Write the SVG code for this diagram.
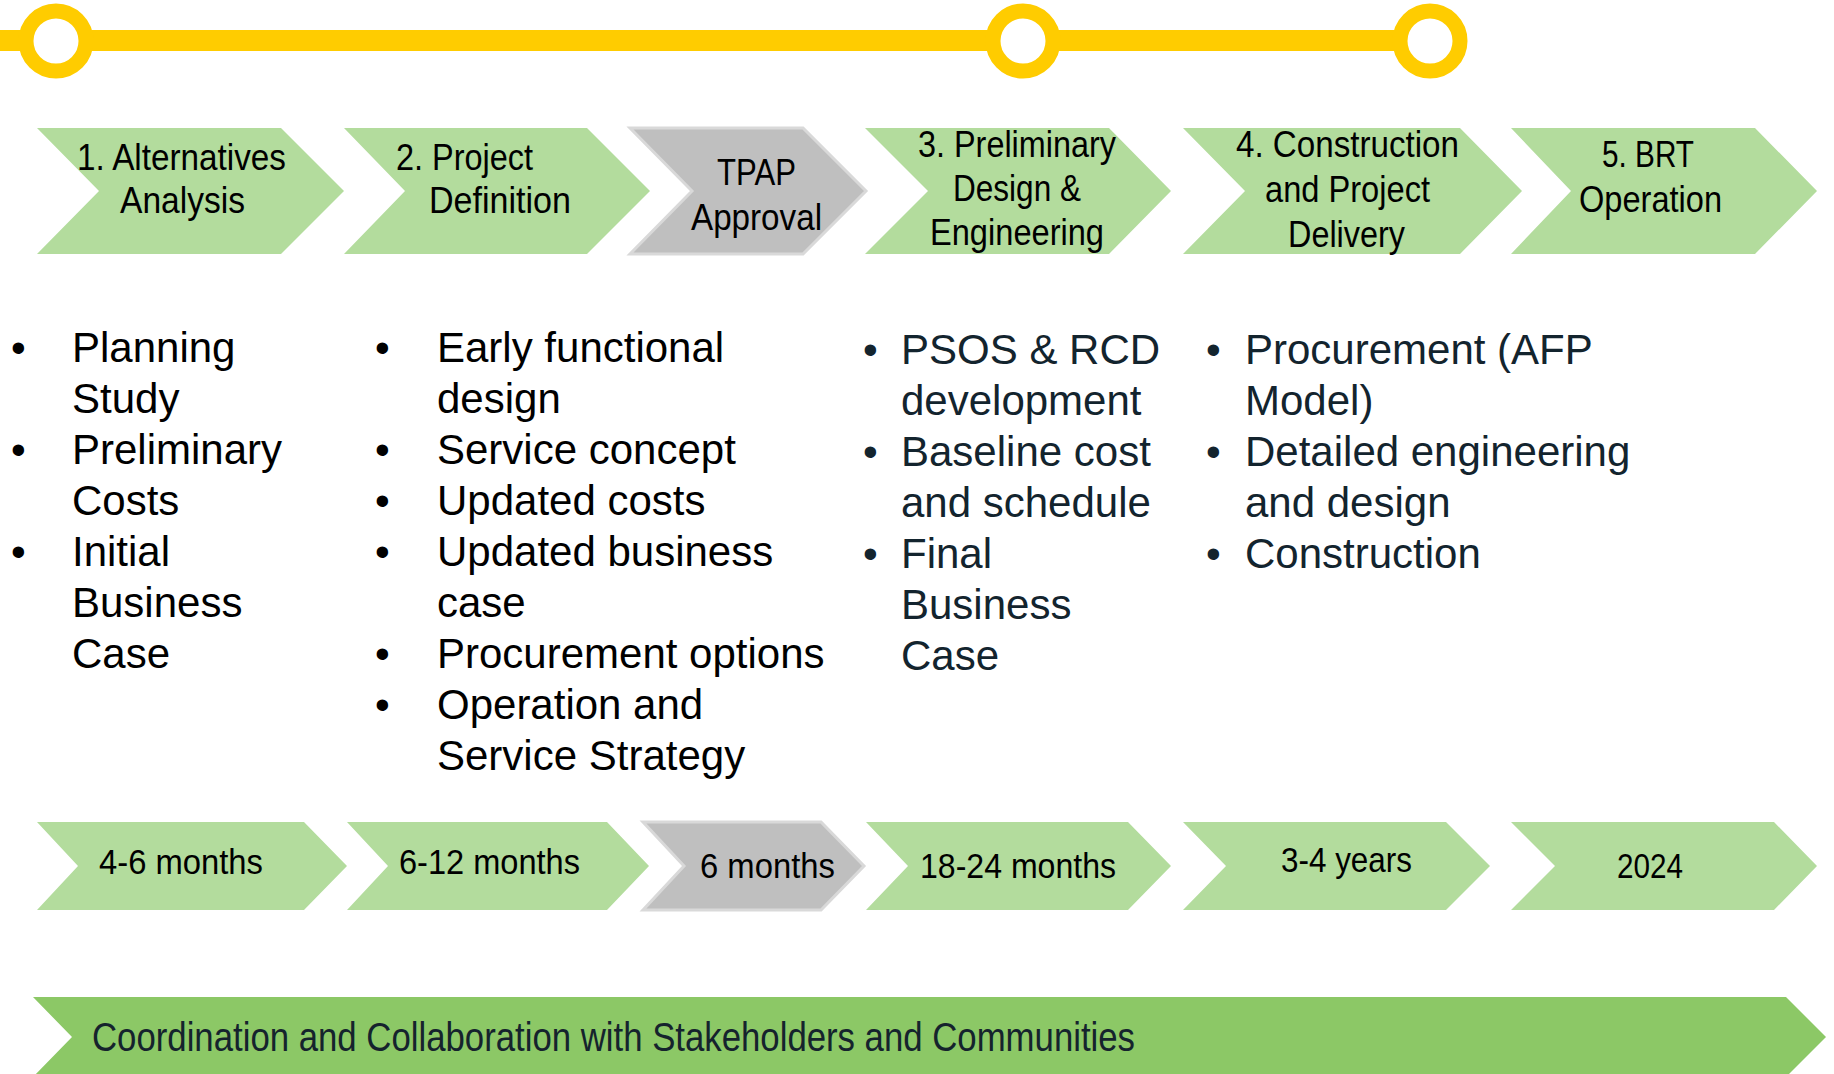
<svg xmlns="http://www.w3.org/2000/svg" width="1834" height="1074" viewBox="0 0 1834 1074">
<style>
.g{fill:#B3DC9D}
.gr{fill:#BFBFBF;stroke:#D9D9D9;stroke-width:3}
.ban{fill:#8CC866}
.t{font-family:"Liberation Sans Narrow","Liberation Sans",Arial,sans-serif;fill:#000}
.h{font-size:37px}
.d{font-size:35px}
.b{font-family:"Liberation Sans",Arial,sans-serif;font-size:42px;fill:#000}
.b2{font-family:"Liberation Sans",Arial,sans-serif;font-size:42px;fill:#13242E}
.bt{font-family:"Liberation Sans Narrow","Liberation Sans",Arial,sans-serif;font-size:41px;fill:#15232D}
.ring{fill:#fff;stroke:#FFCC00;stroke-width:15}
</style>
<rect width="1834" height="1074" fill="#fff"/>
<g id="connectors">
<rect x="0" y="30" width="1430" height="21" fill="#FFCC00"/>
</g>
<g id="milestone-1"><circle class="ring" cx="56" cy="41" r="30"/></g>
<g id="milestone-2"><circle class="ring" cx="1023" cy="41" r="30"/></g>
<g id="milestone-3"><circle class="ring" cx="1430" cy="41" r="30"/></g>

<g id="phase-1">
<polygon class="g" points="37,128 281,128 344,191 281,254 37,254 99,191"/>
<text class="t h" x="77" y="170" textLength="209" lengthAdjust="spacingAndGlyphs">1. Alternatives</text>
<text class="t h" x="120" y="213" textLength="125" lengthAdjust="spacingAndGlyphs">Analysis</text>
</g>
<g id="phase-2">
<polygon class="g" points="344,128 587,128 650,191 587,254 344,254 405,191"/>
<text class="t h" x="396" y="170" textLength="137" lengthAdjust="spacingAndGlyphs">2. Project</text>
<text class="t h" x="429" y="213" textLength="142" lengthAdjust="spacingAndGlyphs">Definition</text>
</g>
<g id="phase-tpap">
<polygon class="gr" points="630,128 803,128 866,191 803,254 630,254 692,191"/>
<text class="t h" x="717" y="185" textLength="79" lengthAdjust="spacingAndGlyphs">TPAP</text>
<text class="t h" x="691" y="230" textLength="131" lengthAdjust="spacingAndGlyphs">Approval</text>
</g>
<g id="phase-3">
<polygon class="g" points="865,128 1109,128 1171,191 1109,254 865,254 928,191"/>
<text class="t h" x="918" y="157" textLength="198" lengthAdjust="spacingAndGlyphs">3. Preliminary</text>
<text class="t h" x="953" y="201" textLength="128" lengthAdjust="spacingAndGlyphs">Design &amp;</text>
<text class="t h" x="930" y="245" textLength="174" lengthAdjust="spacingAndGlyphs">Engineering</text>
</g>
<g id="phase-4">
<polygon class="g" points="1183,128 1460,128 1522,191 1460,254 1183,254 1245,191"/>
<text class="t h" x="1236" y="157" textLength="223" lengthAdjust="spacingAndGlyphs">4. Construction</text>
<text class="t h" x="1265" y="202" textLength="165" lengthAdjust="spacingAndGlyphs">and Project</text>
<text class="t h" x="1288" y="247" textLength="117" lengthAdjust="spacingAndGlyphs">Delivery</text>
</g>
<g id="phase-5">
<polygon class="g" points="1511,128 1755,128 1817,191 1755,254 1511,254 1571,191"/>
<text class="t h" x="1602" y="167" textLength="92" lengthAdjust="spacingAndGlyphs">5. BRT</text>
<text class="t h" x="1579" y="212" textLength="143" lengthAdjust="spacingAndGlyphs">Operation</text>
</g>

<g id="list-1">
<text class="b" x="11" y="362">•</text>
<text class="b" x="72" y="362">Planning</text>
<text class="b" x="72" y="413">Study</text>
<text class="b" x="11" y="464">•</text>
<text class="b" x="72" y="464">Preliminary</text>
<text class="b" x="72" y="515">Costs</text>
<text class="b" x="11" y="566">•</text>
<text class="b" x="72" y="566">Initial</text>
<text class="b" x="72" y="617">Business</text>
<text class="b" x="72" y="668">Case</text>
</g>
<g id="list-2">
<text class="b" x="375" y="362">•</text>
<text class="b" x="437" y="362">Early functional</text>
<text class="b" x="437" y="413">design</text>
<text class="b" x="375" y="464">•</text>
<text class="b" x="437" y="464">Service concept</text>
<text class="b" x="375" y="515">•</text>
<text class="b" x="437" y="515">Updated costs</text>
<text class="b" x="375" y="566">•</text>
<text class="b" x="437" y="566">Updated business</text>
<text class="b" x="437" y="617">case</text>
<text class="b" x="375" y="668">•</text>
<text class="b" x="437" y="668">Procurement options</text>
<text class="b" x="375" y="719">•</text>
<text class="b" x="437" y="719">Operation and</text>
<text class="b" x="437" y="770">Service Strategy</text>
</g>
<g id="list-3">
<text class="b2" x="863" y="364">•</text>
<text class="b2" x="901" y="364">PSOS &amp; RCD</text>
<text class="b2" x="901" y="415">development</text>
<text class="b2" x="863" y="466">•</text>
<text class="b2" x="901" y="466">Baseline cost</text>
<text class="b2" x="901" y="517">and schedule</text>
<text class="b2" x="863" y="568">•</text>
<text class="b2" x="901" y="568">Final</text>
<text class="b2" x="901" y="619">Business</text>
<text class="b2" x="901" y="670">Case</text>
</g>
<g id="list-4">
<text class="b2" x="1206" y="364">•</text>
<text class="b2" x="1245" y="364">Procurement (AFP</text>
<text class="b2" x="1245" y="415">Model)</text>
<text class="b2" x="1206" y="466">•</text>
<text class="b2" x="1245" y="466">Detailed engineering</text>
<text class="b2" x="1245" y="517">and design</text>
<text class="b2" x="1206" y="568">•</text>
<text class="b2" x="1245" y="568">Construction</text>
</g>

<g id="duration-1">
<polygon class="g" points="37,822 304,822 347,866 304,910 37,910 78,866"/>
<text class="t d" x="99" y="874" textLength="164" lengthAdjust="spacingAndGlyphs">4-6 months</text>
</g>
<g id="duration-2">
<polygon class="g" points="347,822 607,822 649,866 607,910 347,910 388,866"/>
<text class="t d" x="399" y="874" textLength="181" lengthAdjust="spacingAndGlyphs">6-12 months</text>
</g>
<g id="duration-tpap">
<polygon class="gr" points="643,822 821,822 864,866 821,910 643,910 684,866"/>
<text class="t d" x="700" y="878" textLength="135" lengthAdjust="spacingAndGlyphs">6 months</text>
</g>
<g id="duration-3">
<polygon class="g" points="866,822 1128,822 1171,866 1128,910 866,910 908,866"/>
<text class="t d" x="920" y="878" textLength="196" lengthAdjust="spacingAndGlyphs">18-24 months</text>
</g>
<g id="duration-4">
<polygon class="g" points="1183,822 1446,822 1490,866 1446,910 1183,910 1226,866"/>
<text class="t d" x="1281" y="872" textLength="131" lengthAdjust="spacingAndGlyphs">3-4 years</text>
</g>
<g id="duration-5">
<polygon class="g" points="1511,822 1774,822 1817,866 1774,910 1511,910 1555,866"/>
<text class="t d" x="1617" y="878" textLength="66" lengthAdjust="spacingAndGlyphs">2024</text>
</g>

<g id="banner">
<polygon class="ban" points="33,997 1786,997 1826,1037 1786,1077 33,1077 72,1037"/>
<text class="bt" x="92" y="1051" textLength="1043" lengthAdjust="spacingAndGlyphs">Coordination and Collaboration with Stakeholders and Communities</text>
</g>
</svg>
